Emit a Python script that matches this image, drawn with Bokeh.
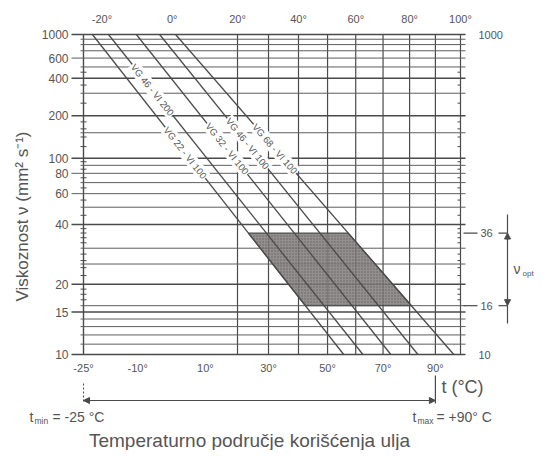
import math
import numpy as np
from bokeh.plotting import figure
from bokeh.models import Range1d, Arrow, NormalHead
from bokeh.core.properties import value
from bokeh.embed import file_html
from bokeh.resources import INLINE

# ---------------- data ----------------
oil_names = ["VG 22 - VI 100", "VG 46 - VI 200", "VG 32 - VI 100", "VG 46 - VI 100", "VG 68 - VI 100"]
t_at_1000 = [-22.6, -18.2, -10.4, -3.7, 1.0]    # °C where each oil line crosses 1000 mm2/s
t_at_10 = [55.7, 62.6, 72.9, 83.2, 97.3]        # °C where each oil line crosses 10 mm2/s
label_nu = [109, 320, 116, 126, 116]            # viscosity where each line carries its label
bottom_ticks = [-25, -10, 10, 30, 50, 70, 90]
top_ticks = [-20, 0, 20, 40, 60, 80, 100]
v_grid = [20, 30, 40, 50, 60, 70, 80, 90, 100]
left_ticks = [10, 15, 20, 40, 60, 80, 100, 200, 400, 600, 1000]
h_grid = [10, 11, 12, 13, 14, 15, 16, 20, 25, 30, 40, 50, 60, 70, 80, 90, 100,
          150, 200, 300, 400, 500, 600, 700, 800, 900, 1000]
h_heavy = [10, 15, 20, 40, 100, 200, 400, 1000]
minor_nu = [17, 18, 19, 22, 24, 26, 28, 32, 34, 36, 38, 45, 55, 65, 75, 85, 95,
            120, 140, 160, 180, 250, 350, 450]
right_labels = [10, 1000]
nu_opt = [16, 36]
t_use = [-25, 90]
t_lo, t_hi = -25, 100
nu_lo, nu_hi = 10, 1000

# ---------------- chart scales: log T(K) across, log log(nu + c) up ----------------
def X(t):
    return np.log10(np.asarray(t, dtype=float) + 273.15)

def Y(n):
    return np.log10(np.log10(np.asarray(n, dtype=float) + 1.5))

W, H = 535, 450
CL, CR, CT, CB = 83, 460, 34, 354          # chart box on the canvas (px)
x0, x1 = float(X(t_lo)), float(X(t_hi))
y0, y1 = float(Y(nu_lo)), float(Y(nu_hi))
sx = (CR - CL) / (x1 - x0)
sy = (CB - CT) / (y1 - y0)

def px(xp):
    return x0 + (xp - CL) / sx

def py(yp):
    return y1 - (yp - CT) / sy

INK = "#4a4a4a"
GRID = "#5e5e5e"
TXT = "#555555"
FONT = "Liberation Sans"

p = figure(width=W, height=H, x_range=Range1d(px(0), px(W)), y_range=Range1d(py(H), py(0)),
           x_axis_type=None, y_axis_type=None, output_backend="svg", toolbar_location=None,
           min_border=0, background_fill_color="white", border_fill_color="white")
p.outline_line_color = None

# ---- grid ----
vx = [float(X(t)) for t in v_grid]
p.segment(x0=vx, y0=[y0] * len(vx), x1=vx, y1=[y1] * len(vx), line_color=INK, line_width=1.2)
p.segment(x0=[x0], y0=[y0], x1=[x0], y1=[y1], line_color=INK, line_width=1.4)   # left edge

hy = [float(Y(n)) for n in h_grid]
hx0 = [px(CL - (12 if n in left_ticks else 3)) for n in h_grid]
hx1 = [px(CR + 5)] * len(h_grid)
hw = [1.5 if n in h_heavy else 1.0 for n in h_grid]
hc = [INK if n in h_heavy else GRID for n in h_grid]
p.segment(x0=hx0, y0=hy, x1=hx1, y1=hy, line_color=hc, line_width=hw)

my = [float(Y(n)) for n in minor_nu]
p.segment(x0=[px(CL - 3)] * len(my), y0=my, x1=[px(CL + 3)] * len(my), y1=my, line_color=INK, line_width=1)
p.segment(x0=[px(CR - 3)] * len(my), y0=my, x1=[px(CR)] * len(my), y1=my, line_color=INK, line_width=1)

# ---- tick labels ----
def txt(xs, ys, ss, size, align="left", angle=0.0, color=TXT, baseline="middle"):
    p.text(x=xs, y=ys, text=ss, angle=angle, text_align=align, text_baseline=baseline,
           text_font=value(FONT), text_font_size=size, text_color=color)

txt([px(CL - 15)] * len(left_ticks), [float(Y(n)) for n in left_ticks], [str(n) for n in left_ticks],
    "12px", align="right")
txt([float(X(t)) for t in top_ticks], [py(18)] * len(top_ticks), [f"{t}°" for t in top_ticks],
    "11px", align="center")
txt([float(X(t)) for t in bottom_ticks], [py(367)] * len(bottom_ticks), [f"{t}°" for t in bottom_ticks],
    "11px", align="center")
txt([px(478)] * len(right_labels), [float(Y(n)) for n in right_labels], [str(n) for n in right_labels],
    "11px")

# ---- oil lines ----
LX = [[float(X(a)), float(X(b))] for a, b in zip(t_at_1000, t_at_10)]
LY = [[y1, y0] for _ in oil_names]

def x_on(i, n):
    xa, xb = LX[i]
    return xa + (float(Y(n)) - y1) / (y0 - y1) * (xb - xa)

# optimum-viscosity band between the outer lines
iL, iR = 0, len(oil_names) - 1
band_x = [x_on(iL, nu_opt[1]), x_on(iR, nu_opt[1]), x_on(iR, nu_opt[0]), x_on(iL, nu_opt[0])]
band_y = [float(Y(nu_opt[1]))] * 2 + [float(Y(nu_opt[0]))] * 2
p.patch(band_x, band_y, fill_color="#858080", fill_alpha=0.88, line_color="#505050", line_width=1.2,
        hatch_pattern="dot", hatch_color="#3e3a3a", hatch_scale=3, hatch_alpha=0.55)

p.multi_line(LX, LY, line_color=INK, line_width=1.3)

lab_x, lab_y, lab_a = [], [], []
for i, n in enumerate(label_nu):
    dxp = (LX[i][1] - LX[i][0]) * sx
    dyp = (y1 - y0) * sy
    lab_x.append(x_on(i, n))
    lab_y.append(float(Y(n)))
    lab_a.append(-math.atan2(dyp, dxp))
p.text(x=lab_x, y=lab_y, text=oil_names, angle=lab_a, text_align="center", text_baseline="middle",
       text_font=value(FONT), text_font_size="9.5px", text_color=TXT,
       background_fill_color="white", padding=1)

# ---- right side: optimum range ----
def seg(xa, ya, xb, yb, dash="solid", w=1.2):
    p.segment(x0=[xa], y0=[ya], x1=[xb], y1=[yb], line_color=INK, line_width=w, line_dash=dash)

XV = px(507)
for n in nu_opt:
    yy = float(Y(n))
    seg(px(463), yy, px(477), yy)
    seg(px(498), yy, XV, yy)
txt([px(480)] * 2, [float(Y(n)) for n in nu_opt], [str(n) for n in nu_opt], "11px")
seg(XV, py(214), XV, float(Y(nu_opt[1])))
seg(XV, float(Y(nu_opt[0])), XV, py(323))
p.add_layout(Arrow(x_start=XV, y_start=float(Y(nu_opt[1])), x_end=XV, y_end=float(Y(nu_opt[0])),
                   start=NormalHead(size=6, fill_color=INK, line_color=INK),
                   end=NormalHead(size=6, fill_color=INK, line_color=INK), line_color=INK, line_width=1.2))
txt([px(513)], [py(268)], ["ν"], "14px")
txt([px(522)], [py(273)], ["opt"], "8px")

# ---- temperature range below ----
ya = py(400)
p.add_layout(Arrow(x_start=float(X(t_use[0])), y_start=ya, x_end=float(X(t_use[1])), y_end=ya,
                   start=NormalHead(size=6, fill_color=INK, line_color=INK),
                   end=NormalHead(size=6, fill_color=INK, line_color=INK), line_color=INK, line_width=1.2))
seg(float(X(t_use[0])), py(383), float(X(t_use[0])), py(402), dash="2 2", w=1)
seg(float(X(t_use[1])), py(375), float(X(t_use[1])), py(403), w=1.2)
txt([float(X(t_use[1])) + 6 / sx], [py(386)], ["t (°C)"], "18px")

txt([px(29)], [py(416)], ["t"], "14px")
txt([px(34)], [py(420)], ["min"], "8.5px")
txt([px(52)], [py(416)], [f"= {t_use[0]} °C"], "14px")
txt([px(412)], [py(416)], ["t"], "14px")
txt([px(417)], [py(420)], ["max"], "8.5px")
txt([px(436)], [py(416)], [f"= +{t_use[1]}° C"], "14px")

txt([px(249)], [py(440)], ["Temperaturno područje korišćenja ulja"], "19px", align="center")
txt([px(22)], [py(216)], ["Viskoznost ν (mm² s⁻¹)"], "17px", align="center", angle=math.pi / 2)

open("out.html", "w").write(file_html(p, INLINE))
